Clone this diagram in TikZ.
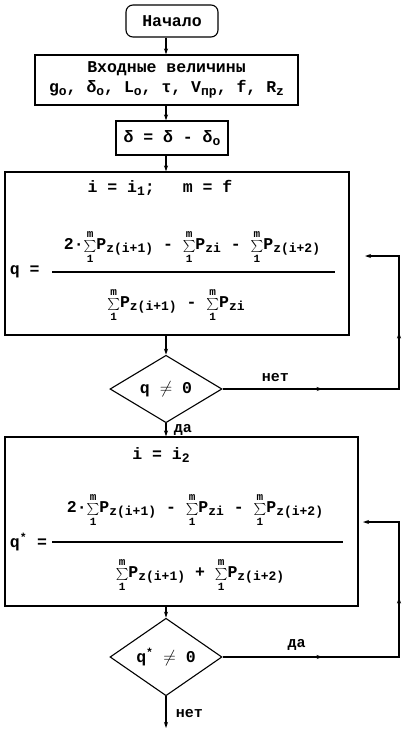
\documentclass[tikz,border=0pt]{standalone}
\usepackage{amsmath}
\usepackage{fontspec}
\setmainfont{Liberation Mono}
\usepackage{tikz}
\usetikzlibrary{arrows.meta, decorations.markings, shapes.geometric}
\newcommand{\sub}[1]{\raisebox{-3pt}{\fontsize{13}{14}\selectfont #1}}
\newcommand{\sumlim}[1]{\hbox{\fontsize{11}{11}\selectfont #1}}
\newcommand{\sumP}{\ensuremath{\mathop{\scriptstyle\sum}\limits^{\sumlim{m}}_{\sumlim{1}}}}

\begin{document}
\begin{tikzpicture}[x=1pt, y=-1pt, line width=1.1pt,
  font=\fontsize{16.5}{20}\selectfont\bfseries,
  box/.style={draw, rectangle, inner sep=0pt},
  term/.style={draw, rounded corners=7pt, inner sep=0pt, minimum width=92pt, minimum height=32pt},
  cond/.style={draw, diamond, inner sep=0pt, minimum width=112pt, minimum height=48pt},
  flow/.style={-{Stealth[length=6pt, width=4pt]}},
  loopline/.style={-{Stealth[length=6pt, width=4pt]}, postaction={decorate},
    decoration={markings,
      mark=at position 100pt with {\arrow{Stealth[length=6pt, width=4pt]}},
      mark=at position #1 with {\arrow{Stealth[length=6pt, width=4pt]}}}},
  lbl/.style={font=\fontsize{15}{18}\selectfont\bfseries}]
\useasboundingbox (0,0) rectangle (402,734);
\coordinate (spine) at (166,0);
% Start and input data
\node[term] (start) at (172,21) {Начало};
\node[box, minimum width=263pt, minimum height=50pt, align=center] (input) at (166.5,80)
  {Входные величины\\g\sub{o}, δ\sub{o}, L\sub{o}, τ, V\sub{пр}, f, R\sub{z}};
\node[box, minimum width=112pt, minimum height=34pt] (delta) at (172,138) {δ = δ - δ\sub{o}};
% First computation block
\node[box, minimum width=344pt, minimum height=163pt] (calc1) at (177,253.5) {};
\node (idx1) at (160,188) {i = i\sub{1};\hspace{28pt}m = f};
\node (num1) at (192,247) {2·\sumP P\sub{z(i+1)} - \sumP P\sub{zi} - \sumP P\sub{z(i+2)}};
\node (den1) at (176,305) {\sumP P\sub{z(i+1)} - \sumP P\sub{zi}};
\node[anchor=west] (q1) at (6,272) {q =};
\draw (52,272) -- (335,272);
\node[cond] (test1) at (166,389) {q $\neq$ 0};
% Second computation block
\node[box, minimum width=353pt, minimum height=169pt] (calc2) at (181.5,521.5) {};
\node (idx2) at (161,455) {i = i\sub{2}};
\node (num2) at (195,510) {2·\sumP P\sub{z(i+1)} - \sumP P\sub{zi} - \sumP P\sub{z(i+2)}};
\node (den2) at (200,575) {\sumP P\sub{z(i+1)} + \sumP P\sub{z(i+2)}};
\node[anchor=west] (q2) at (6,542) {q\textsuperscript{*} =};
\draw (52,542) -- (343,542);
\node[cond] (test2) at (166,657) {q\textsuperscript{*} $\neq$ 0};
% Main flow
\draw[flow] (start.south -| spine) -- (input.north -| spine);
\draw[flow] (input.south -| spine) -- (delta.north -| spine);
\draw[flow] (delta.south -| spine) -- (calc1.north -| spine);
\draw[flow] (calc1.south -| spine) -- (test1.north);
\draw[flow] (test1.south) -- node[lbl, right=4pt] {да} (calc2.north -| spine);
\draw[flow] (calc2.south -| spine) -- (test2.north);
\coordinate (exit) at (166,728);
\draw[flow] (test2.south) -- node[lbl, right=6pt, pos=0.55] {нет} (exit);
% Return loops
\coordinate (ret1) at (365,256);
\coordinate (ret2) at (363,522);
\draw[loopline=233pt] (test1.east) -- node[lbl, above=3pt, pos=0.3] {нет} (test1.east -| 399,0) |- (ret1);
\draw[loopline=236pt] (test2.east) -- node[lbl, above=3pt, pos=0.42] {да} (test2.east -| 399,0) |- (ret2);
\end{tikzpicture}
\end{document}
